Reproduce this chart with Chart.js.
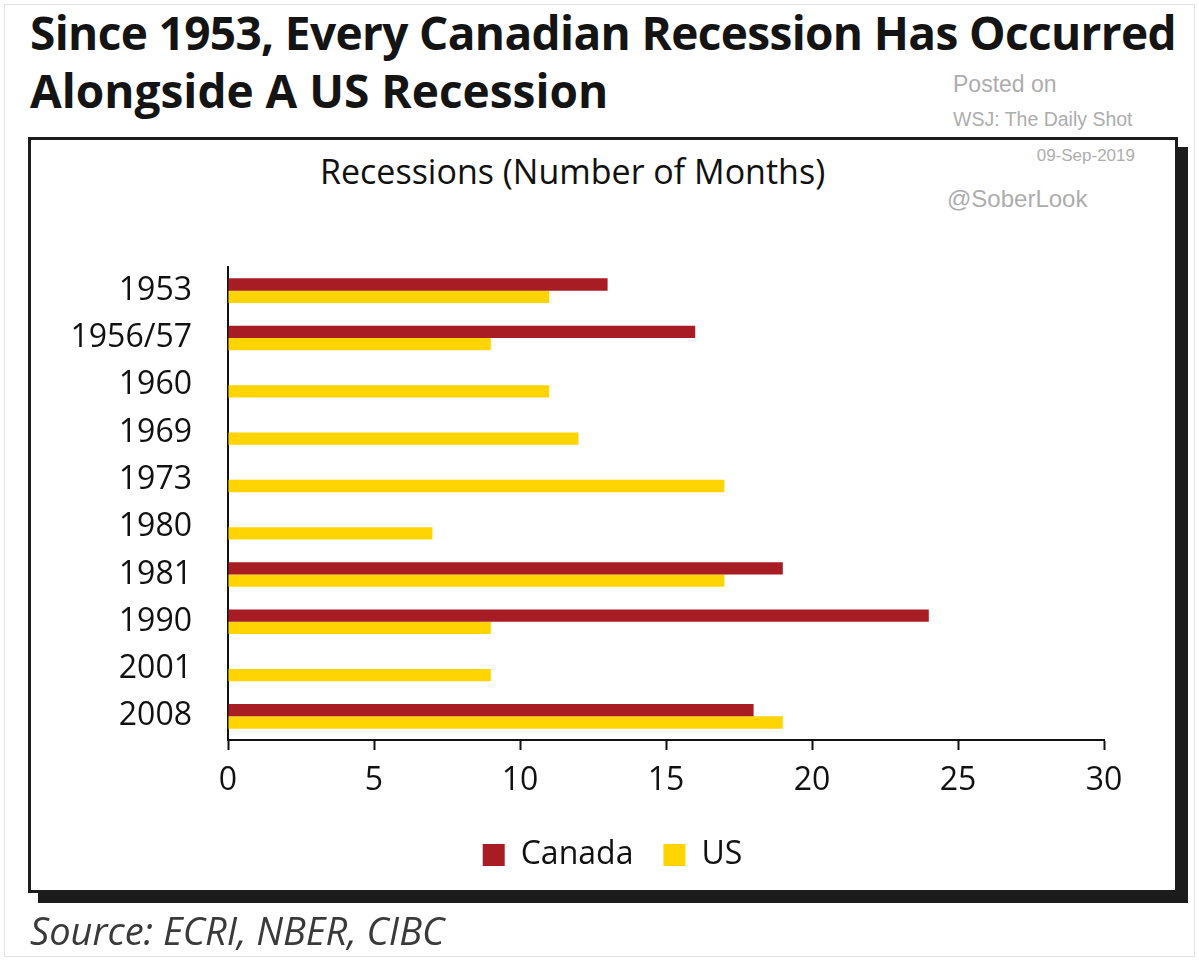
<!DOCTYPE html>
<html>
<head>
<meta charset="utf-8">
<script src="https://cdn.jsdelivr.net/npm/chart.js@4"></script>
<style>
  html, body { margin: 0; padding: 0; background: #fff; }
  body { width: 1199px; height: 961px; position: relative; overflow: hidden; font-family: "Open Sans", sans-serif; }
  .frame { position: absolute; left: 4px; top: 4px; width: 1189px; height: 951px; border: 1px solid #e4e4e4; }
  .headline { position: absolute; left: 30px; top: 3px; font-weight: 700; font-size: 46px; line-height: 58px; color: #141414; white-space: nowrap; }
  .headline .tight { letter-spacing: -0.65px; }
  .wm { position: absolute; font-family: "Liberation Sans", Arial, sans-serif; color: #adadad; white-space: nowrap; }
  .box { position: absolute; left: 28px; top: 137px; width: 1144px; height: 750px; border: 3px solid #1c1c1c; background: #fff; box-shadow: 10px 10px 0 0 #1c1c1c; }
  .chart-title { position: absolute; left: 320px; top: 148px; font-size: 34px; color: #111; white-space: nowrap; }
  .source { position: absolute; left: 30px; top: 904px; font-style: italic; font-size: 38px; color: #3a3a3a; white-space: nowrap; }
  #wrap { position: absolute; left: 31px; top: 140px; width: 1144px; height: 770px; }
</style>
</head>
<body>
<div class="frame"></div>
<div class="headline"><span class="tight">Since 1953, Every Canadian Recession Has Occurred</span><br>Alongside A US Recession</div>
<div class="box"></div>
<div class="wm" style="left:953px; top:71px; font-size:23px;">Posted on</div>
<div class="wm" style="left:953px; top:108px; font-size:19.5px;">WSJ: The Daily Shot</div>
<div class="wm" style="right:64px; top:146px; font-size:17px;">09-Sep-2019</div>
<div class="wm" style="left:947px; top:185px; font-size:24px;">@SoberLook</div>
<div class="chart-title">Recessions (Number of Months)</div>
<div id="wrap"><canvas id="recessionChart"></canvas></div>
<div class="source">Source: ECRI, NBER, CIBC</div>

<script>
  // Recession lengths in months, by starting year
  const years = ['1953', '1956/57', '1960', '1969', '1973', '1980', '1981', '1990', '2001', '2008'];
  const canadaMonths = [13, 16, null, null, null, null, 19, 24, null, 18];
  const usMonths = [11, 9, 11, 12, 17, 7, 17, 9, 9, 19];
  const monthTicks = [0, 5, 10, 15, 20, 25, 30];

  const tickFont = { family: 'Open Sans', size: 32 };

  // push the legend a bit to the right of the canvas centre
  const legendNudge = {
    id: 'legendNudge',
    afterLayout(chart) {
      const lg = chart.legend;
      lg.left += 35;
      lg.right += 35;
    }
  };

  const ctx = document.getElementById('recessionChart').getContext('2d');
  const recessionChart = new Chart(ctx, {
    type: 'bar',
    data: {
      labels: years,
      datasets: [{
        label: 'Canada',
        data: canadaMonths,
        backgroundColor: '#a81c24',
        categoryPercentage: 0.52,
        barPercentage: 1.0
      }, {
        label: 'US',
        data: usMonths,
        backgroundColor: '#ffd400',
        categoryPercentage: 0.52,
        barPercentage: 1.0
      }]
    },
    options: {
      indexAxis: 'y',
      responsive: true,
      maintainAspectRatio: false,
      animation: false,
      layout: {
        padding: { left: 20, right: 71, top: 127, bottom: 29 }
      },
      scales: {
        x: {
          min: 0,
          max: 30,
          afterBuildTicks: (scale) => {
            scale.ticks = monthTicks.map(v => ({ value: v }));
          },
          afterFit: (scale) => { scale.height = 69; },
          border: { display: true, color: '#111', width: 2 },
          grid: {
            drawOnChartArea: false,
            drawTicks: true,
            tickLength: 10,
            tickWidth: 2,
            tickColor: '#111'
          },
          ticks: { color: '#111', font: tickFont, padding: 12, maxRotation: 0 }
        },
        y: {
          afterFit: (scale) => { scale.width = 177; },
          border: { display: true, color: '#111', width: 2 },
          grid: { display: false, drawTicks: false },
          ticks: { color: '#111', font: tickFont, padding: 36 }
        }
      },
      plugins: {
        legend: {
          position: 'bottom',
          labels: {
            color: '#111',
            font: tickFont,
            boxWidth: 22,
            boxHeight: 22,
            padding: 30
          }
        },
        tooltip: { enabled: false }
      }
    },
    plugins: [legendNudge]
  });
</script>
</body>
</html>
